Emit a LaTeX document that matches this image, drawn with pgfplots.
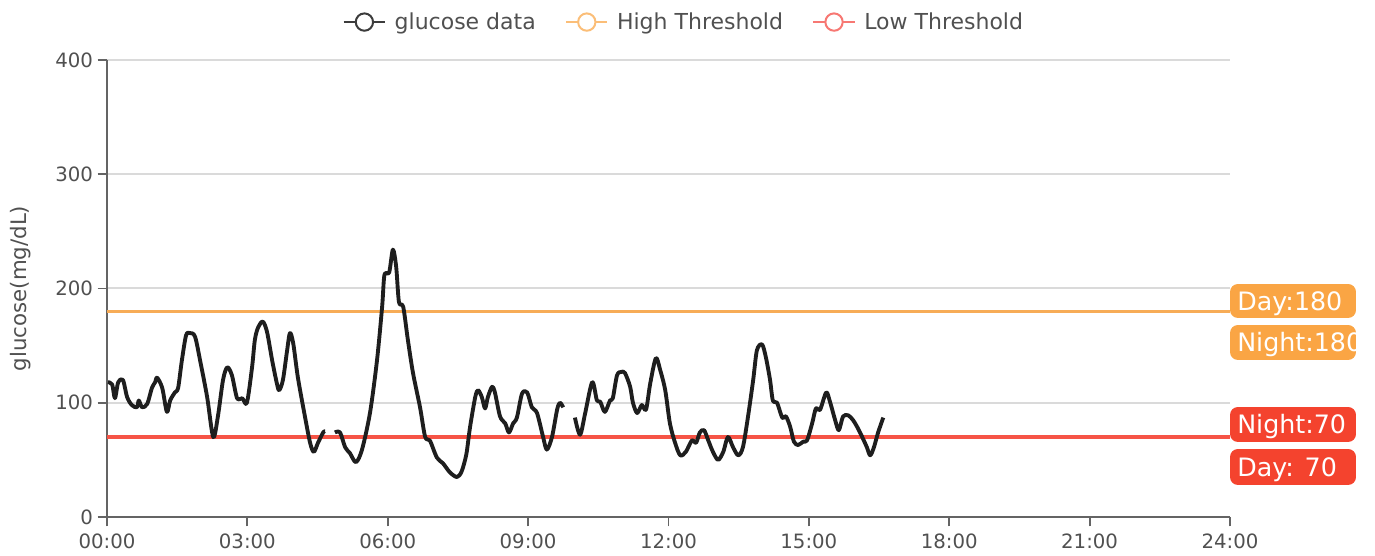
\documentclass[border=0pt]{standalone}
\usepackage{fontspec}
\setmainfont{DejaVu Sans}
\usepackage{pgfplots}
\pgfplotsset{compat=1.18}
\usepackage{pgfplotstable}

\definecolor{axisgray}{RGB}{100,100,100}
\definecolor{gridgray}{RGB}{218,218,218}
\definecolor{labelgray}{RGB}{80,80,80}
\definecolor{glucose}{RGB}{30,30,30}
\definecolor{hiline}{RGB}{247,172,87}
\definecolor{loline}{RGB}{246,84,70}
\definecolor{hibox}{RGB}{250,165,68}
\definecolor{lobox}{RGB}{244,67,46}
\definecolor{legblack}{RGB}{60,60,60}
\definecolor{hilegend}{RGB}{251,190,120}
\definecolor{lolegend}{RGB}{247,120,115}

% glucose readings, hours since midnight vs mg/dL (three runs, gaps between)
\pgfplotstableread{
h v
0.02 118
0.11 116
0.17 104
0.24 118
0.34 120
0.43 105
0.53 98
0.64 96
0.68 102
0.75 96
0.86 99
0.96 113
1.03 118
1.07 122
1.18 113
1.28 92
1.35 102
1.45 109
1.52 113
1.60 137
1.69 159
1.77 161
1.88 158
1.99 137
2.14 105
2.27 70
2.37 88
2.48 120
2.57 131
2.67 124
2.78 104
2.89 104
2.99 100
3.10 131
3.16 155
3.23 166
3.33 171
3.42 162
3.53 137
3.63 117
3.68 111
3.76 120
3.85 146
3.91 161
3.98 152
4.08 122
4.23 88
4.34 65
4.42 57
4.51 65
4.62 74
4.66 75
}\segA

\pgfplotstableread{
h v
4.87 74
4.98 74
5.09 61
5.19 56
5.32 48
5.45 59
5.62 91
5.77 137
5.88 184
5.93 212
6.03 214
6.11 234
6.18 219
6.24 188
6.33 184
6.43 155
6.54 126
6.69 96
6.80 70
6.90 67
7.05 52
7.18 47
7.33 39
7.48 35
7.58 40
7.68 55
7.76 79
7.87 105
7.93 111
8.01 105
8.08 95
8.14 105
8.23 114
8.29 109
8.40 88
8.51 82
8.59 74
8.68 82
8.76 87
8.87 108
8.98 109
9.08 96
9.19 91
9.32 70
9.40 59
9.51 70
9.62 94
9.68 100
9.75 96
}\segB

\pgfplotstableread{
h v
10.00 87
10.11 72
10.22 91
10.37 118
10.47 102
10.54 101
10.64 92
10.75 102
10.81 104
10.90 124
10.99 127
11.07 126
11.18 114
11.24 100
11.33 91
11.43 98
11.52 94
11.61 117
11.73 139
11.82 129
11.93 111
12.03 82
12.14 65
12.25 54
12.37 57
12.50 67
12.59 65
12.67 74
12.76 76
12.85 67
12.95 57
13.06 50
13.17 57
13.27 70
13.38 61
13.49 54
13.59 61
13.70 88
13.81 120
13.89 146
14.00 151
14.08 140
14.17 120
14.23 102
14.32 100
14.43 87
14.51 88
14.60 79
14.68 66
14.77 63
14.88 66
14.96 67
15.07 82
15.15 95
15.24 94
15.37 109
15.45 101
15.56 85
15.64 76
15.73 88
15.84 89
15.94 85
16.03 79
16.14 70
16.24 61
16.31 54
16.39 61
16.48 74
16.59 87
}\segC

% coloured tag at the right end of the axis: bottom, top (pt above axis origin), colour, text
\newcommand\tagbox[4]{%
  \begin{scope}
    \clip[rounded corners=6pt] ([xshift=842.25pt,yshift=#1pt]O) rectangle ([xshift=936.75pt,yshift=#2pt]O);
    \fill[#3] ([xshift=842.25pt,yshift=#1pt]O) rectangle ([xshift=936.75pt,yshift=#2pt]O);
    \node[anchor=base west, inner sep=0pt, text=white, font=\fontsize{19}{21}\selectfont]
      at ([xshift=847.5pt,yshift={(#1+#2)/2-6.8}]O) {#4};
  \end{scope}}

\begin{document}
\begin{tikzpicture}
\begin{axis}[
  scale only axis,
  width=842.25pt, height=342.75pt,
  xmin=0, xmax=24, ymin=0, ymax=400,
  axis lines=left,
  axis line style={-, draw=axisgray, line width=1.4pt},
  xtick={0,3,...,24},
  xticklabels={00:00,03:00,06:00,09:00,12:00,15:00,18:00,21:00,24:00},
  ytick={0,100,200,300,400},
  tick align=outside,
  major tick length=7pt,
  tick style={draw=axisgray, line width=1.4pt},
  ymajorgrids,
  grid style={draw=gridgray, line width=1.5pt},
  ticklabel style={font=\fontsize{14.8}{17}\selectfont, text=labelgray},
  xticklabel style={yshift=-2pt},
  yticklabel style={/pgf/number format/assume math mode=true},
  ylabel={glucose(mg/dL)},
  every axis y label/.style={at={(rel axis cs:0,0.5)}, xshift=-65pt, rotate=90, anchor=center,
    font=\fontsize{16}{19}\selectfont, text=labelgray},
  legend style={at={(0.514,1.083)}, anchor=center, draw=none, fill=none,
    font=\fontsize{16.5}{19}\selectfont, text=labelgray,
    /tikz/every even column/.append style={column sep=20pt}},
  legend columns=3,
  legend image code/.code={
    \draw[#1, line width=1.5pt] (0pt,0pt) -- (31pt,0pt);
    \draw[#1, line width=1.5pt, fill=white] (15.5pt,0pt) circle (6.5pt);
    \path (36pt,0pt);},
]
\coordinate (O) at (rel axis cs:0,0);
\addplot[hiline, line width=2.3pt, forget plot] coordinates {(0,180) (24,180)};
\addplot[loline, line width=2.3pt, forget plot] coordinates {(0,70) (24,70)};
\addplot[glucose, line width=2.9pt, smooth, line join=round, forget plot] table {\segA};
\addplot[glucose, line width=2.9pt, smooth, line join=round, forget plot] table {\segB};
\addplot[glucose, line width=2.9pt, smooth, line join=round, forget plot] table {\segC};
\addlegendimage{color=legblack}
\addlegendentry{glucose data}
\addlegendimage{color=hilegend}
\addlegendentry{High Threshold}
\addlegendimage{color=lolegend}
\addlegendentry{Low Threshold}
\end{axis}
\tagbox{149.25}{174.75}{hibox}{Day:180}
\tagbox{117.75}{144}{hibox}{Night:180}
\tagbox{56.25}{82.5}{lobox}{Night:70}
\tagbox{24}{51}{lobox}{Day: 70}
\pgfresetboundingbox
\path ([xshift=-80.25pt,yshift=-29.25pt]O) rectangle ([xshift=951pt,yshift=387.75pt]O);
\end{tikzpicture}
\end{document}
